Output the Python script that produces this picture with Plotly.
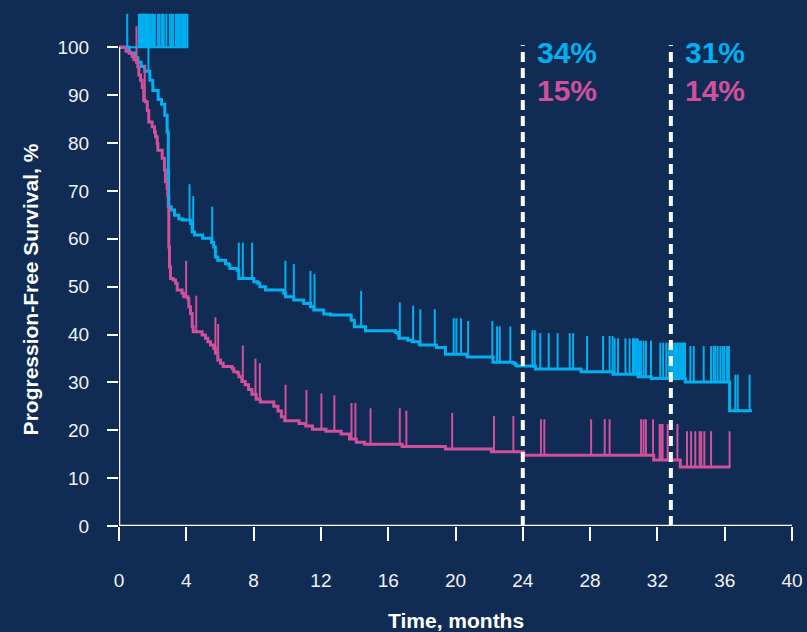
import plotly.graph_objects as go

# ---------------- data ----------------
# Kaplan-Meier step points (time in months, survival in %) - blue arm
blue_time = [0, 0.60, 0.94, 1.12, 1.32, 1.53, 1.83, 2.01, 2.33, 2.53, 2.72, 2.86, 2.93,
             3.10, 3.30, 3.56, 3.75, 4.25, 4.35, 4.49, 4.97, 5.50, 5.63, 5.73, 5.87,
             6.33, 6.53, 6.59, 7.02, 7.12, 8.01, 8.25, 8.37, 8.71, 9.79, 9.89, 10.39,
             10.98, 11.38, 11.58, 12.17, 12.57, 13.80, 13.99, 14.65, 16.43, 16.57, 16.63,
             17.16, 17.42, 17.87, 18.87, 19.40, 20.69, 22.23, 23.42, 23.56, 23.66, 24.75,
             27.46, 29.36, 30.85, 31.64, 33.66, 36.29, 37.62]
blue_surv = [100, 98.8, 97.8, 96.9, 96.0, 95.0, 93.1, 91.0, 89.1, 88.1, 85.8, 82.3, 66.7,
             66.0, 64.9, 64.2, 63.9, 63.2, 61.4, 60.8, 60.1, 59.2, 58.3, 56.2, 55.5,
             54.8, 54.5, 53.8, 53.4, 51.7, 51.0, 50.7, 50.0, 49.3, 48.6, 47.9, 47.2,
             46.5, 45.8, 45.1, 44.3, 44.1, 43.0, 41.6, 40.8, 40.4, 40.1, 39.2,
             38.8, 38.5, 37.8, 37.3, 35.9, 35.3, 34.2, 34.0, 33.6, 33.4, 32.8,
             32.2, 31.7, 31.2, 30.8, 30.1, 24.1, 24.1]

# censored observations - blue arm
blue_censor = [1.75, 2.98, 4.19, 4.41, 5.54, 7.12, 7.36, 7.91, 9.89, 10.39, 11.38, 11.62,
               14.39, 16.69, 17.48, 17.91, 18.77, 19.89, 20.05, 20.33, 20.75, 22.19, 22.47,
               22.63, 23.26, 24.57, 24.71, 25.04, 25.54, 26.07, 26.79, 26.99, 27.82, 28.77,
               29.16, 29.34, 29.46, 29.66, 30.10, 30.35, 30.55, 30.65, 30.75, 30.82, 30.92,
               31.03, 31.18, 31.32, 31.62, 32.17, 32.34, 32.53, 32.67, 32.80, 32.90, 33.00,
               33.10, 33.20, 33.30, 33.40, 33.50, 33.58, 33.64, 33.96, 34.16, 34.75, 35.19,
               35.34, 35.44, 35.58, 35.74, 35.88, 35.98, 36.14, 36.25, 36.63, 36.77, 37.48]

# early blue censor marks stacked on the 100% line
blue_censor_top = [0.49, 1.18, 1.24, 1.30, 1.36, 1.42, 1.50, 1.57, 1.63, 1.69, 1.79, 1.87,
                   1.97, 2.03, 2.13, 2.31, 2.42, 2.56, 2.66, 2.82, 3.02, 3.12, 3.22, 3.38,
                   3.46, 3.56, 3.66, 3.76, 3.86, 3.96, 4.06]

# Kaplan-Meier step points - magenta arm
mag_time = [0, 0.42, 0.64, 0.78, 0.88, 1.04, 1.12, 1.18, 1.28, 1.38, 1.47, 1.57, 1.68,
            1.77, 1.97, 2.11, 2.17, 2.27, 2.31, 2.57, 2.70, 2.76, 2.86, 2.90, 2.96, 3.00,
            3.06, 3.22, 3.36, 3.46, 3.75, 3.85, 4.09, 4.15, 4.25, 4.35, 4.41, 4.94, 5.14,
            5.28, 5.44, 5.63, 5.73, 5.87, 6.03, 6.19, 6.72, 6.82, 7.02, 7.12, 7.30, 7.50,
            7.70, 7.90, 8.15, 8.40, 9.20, 9.45, 9.65, 9.85, 10.70, 11.10, 11.50, 12.30,
            13.20, 13.70, 14.10, 14.60, 16.83, 19.40, 22.13, 24.05, 31.78, 33.36, 36.33]
mag_surv = [100, 99.2, 98.8, 98.1, 97.4, 96.9, 95.9, 94.2, 93.1, 91.6, 88.9, 88.6, 86.8,
            84.4, 83.4, 82.3, 81.3, 79.9, 78.5, 76.8, 74.3, 71.9, 70.5, 69.1, 58.3, 54.1,
            51.7, 51.4, 50.7, 49.3, 48.6, 47.9, 47.5, 45.8, 44.4, 41.6, 40.6, 39.9, 39.2,
            38.5, 37.8, 37.1, 36.1, 34.7, 34.0, 33.3, 32.9, 32.2, 32.0, 31.2, 30.2, 29.5,
            28.5, 27.5, 26.5, 25.9, 25.0, 24.0, 22.8, 22.0, 21.4, 20.9, 20.2, 19.8,
            19.2, 18.2, 17.5, 17.1, 16.6, 16.1, 15.5, 14.8, 13.8, 12.3, 12.3]

# censored observations - magenta arm
mag_censor = [1.04, 1.53, 3.99, 4.59, 5.73, 5.89, 7.36, 8.11, 8.37, 9.90, 11.14, 12.03,
              12.80, 13.82, 14.05, 14.95, 16.69, 17.08, 19.80, 22.29, 23.44, 25.08, 25.28,
              28.06, 28.87, 29.16, 31.03, 31.18, 31.32, 31.74, 32.13, 32.21, 32.31, 32.61,
              33.19, 33.76, 34.00, 34.25, 34.51, 34.61, 34.79, 35.19, 36.29]

# landmark time points and survival rates at each
landmarks = [24, 32.8]
blue_rates = ["34%", "31%"]
mag_rates = ["15%", "14%"]

x_ticks = list(range(0, 41, 4))
y_ticks = list(range(0, 101, 10))

# ---------------- styling ----------------
BG = "#102C54"
BLUE = "#00B0F0"
MAGENTA = "#D0509C"
FONT = "Liberation Sans, Arial, sans-serif"
TICK_H = 7.5


def surv_at(times, surv, t):
    s = surv[0]
    for ti, si in zip(times, surv):
        if ti <= t:
            s = si
        else:
            break
    return s


def censor_xy(times, surv, cens, h):
    xs, ys = [], []
    for c in cens:
        s = surv_at(times, surv, c)
        xs += [c, c, None]
        ys += [s, s + h, None]
    return xs, ys


fig = go.Figure()

# survival curves
fig.add_trace(go.Scatter(x=blue_time, y=blue_surv, mode="lines",
                         line=dict(color=BLUE, width=3, shape="hv"),
                         hoverinfo="skip", showlegend=False))
fig.add_trace(go.Scatter(x=mag_time, y=mag_surv, mode="lines",
                         line=dict(color=MAGENTA, width=3, shape="hv"),
                         hoverinfo="skip", showlegend=False))

# censor tick marks
bx, by = censor_xy(blue_time, blue_surv, blue_censor, TICK_H)
fig.add_trace(go.Scatter(x=bx, y=by, mode="lines", line=dict(color=BLUE, width=2),
                         hoverinfo="skip", showlegend=False, cliponaxis=False))
mx, my = censor_xy(mag_time, mag_surv, mag_censor, TICK_H)
fig.add_trace(go.Scatter(x=mx, y=my, mode="lines", line=dict(color=MAGENTA, width=2),
                         hoverinfo="skip", showlegend=False, cliponaxis=False))

# stacked censor marks on the 100% line, with their baseline
tx, ty = [], []
for c in blue_censor_top:
    tx += [c, c, None]
    ty += [100, 107, None]
tx += [blue_censor_top[0] - 0.04, blue_censor_top[-1] + 0.06]
ty += [100, 100]
fig.add_trace(go.Scatter(x=tx, y=ty, mode="lines", line=dict(color=BLUE, width=2),
                         hoverinfo="skip", showlegend=False, cliponaxis=False))

# axis lines
fig.add_shape(type="line", x0=0, x1=0, y0=0, y1=100, xref="x", yref="y",
              line=dict(color="white", width=2.5), layer="above")
fig.add_shape(type="line", x0=0, x1=40, y0=0, y1=0, xref="x", yref="y",
              line=dict(color="white", width=2.5), layer="above")

# landmark dashed lines and rate labels
for lm, br, mr in zip(landmarks, blue_rates, mag_rates):
    fig.add_shape(type="line", x0=lm, x1=lm, y0=0, y1=100.5, xref="x", yref="y",
                  line=dict(color="white", width=4, dash="10px,6px"), layer="above")
    fig.add_annotation(x=lm + 0.7, y=98.9, xref="x", yref="y", text=br,
                       showarrow=False, xanchor="left", yanchor="middle",
                       font=dict(family=FONT, size=30, color=BLUE, weight="bold"))
    fig.add_annotation(x=lm + 0.7, y=91.0, xref="x", yref="y", text=mr,
                       showarrow=False, xanchor="left", yanchor="middle",
                       font=dict(family=FONT, size=30, color=MAGENTA, weight="bold"))

# axis titles
fig.add_annotation(x=0.5, y=-0.1836, xref="paper", yref="paper", text="Time, months",
                   showarrow=False, xanchor="center", yanchor="middle",
                   font=dict(family=FONT, size=21, color="white", weight="bold"))
fig.add_annotation(x=-0.132, y=0.458, xref="paper", yref="paper",
                   text="Progression-Free Survival, %", textangle=-90,
                   showarrow=False, xanchor="center", yanchor="middle",
                   font=dict(family=FONT, size=21, color="white", weight="bold"))

fig.update_layout(
    width=807, height=632,
    margin=dict(l=119, r=15, t=9, b=106, autoexpand=False),
    paper_bgcolor=BG, plot_bgcolor=BG,
    font=dict(family=FONT, color="white"),
    showlegend=False,
)
fig.update_xaxes(range=[0, 40], tickvals=x_ticks, ticks="outside", ticklen=14,
                 tickwidth=2, tickcolor="white", showline=False, showgrid=False,
                 zeroline=False, ticklabelstandoff=23, automargin=False,
                 tickfont=dict(family=FONT, size=19, color="#F2F2F2"))
fig.update_yaxes(range=[0, 108], tickvals=y_ticks, ticks="outside", ticklen=11,
                 tickwidth=2, tickcolor="white", showline=False, showgrid=False,
                 zeroline=False, ticklabelstandoff=14, automargin=False,
                 tickfont=dict(family=FONT, size=19, color="#F2F2F2"))

fig.write_html("out.html")
